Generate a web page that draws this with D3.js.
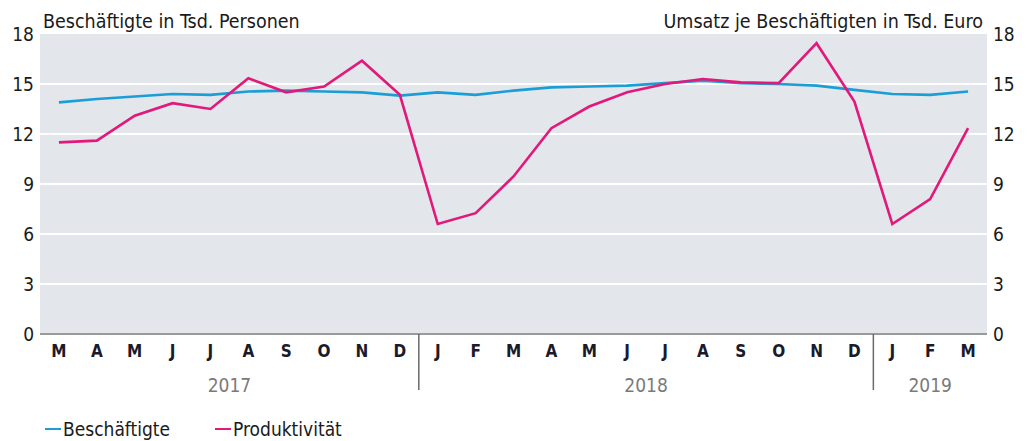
<!DOCTYPE html>
<html>
<head>
<meta charset="utf-8">
<script src="https://cdn.jsdelivr.net/npm/d3@7"></script>
<style>
  body { margin: 0; background: #fff; }
  svg { font-family: "Liberation Sans Narrow", "DejaVu Sans Condensed", "Roboto", sans-serif; }
</style>
</head>
<body>
<svg id="chart" width="1027" height="441"></svg>
<script>
// month labels, Mar 2017 .. Mar 2019
var months = ["M","A","M","J","J","A","S","O","N","D",
              "J","F","M","A","M","J","J","A","S","O","N","D",
              "J","F","M"];
var years = [["2017", 0, 9], ["2018", 10, 21], ["2019", 22, 24]];   // label, first idx, last idx

var beschaeftigte = [13.9, 14.1, 14.25, 14.4, 14.35, 14.55, 14.6, 14.55, 14.5, 14.3,
                     14.5, 14.35, 14.6, 14.8, 14.85, 14.9, 15.05, 15.2, 15.05, 15.0, 14.9, 14.65,
                     14.4, 14.35, 14.55];
var produktivitaet = [11.5, 11.6, 13.1, 13.85, 13.5, 15.35, 14.5, 14.85, 16.4, 14.35,
                      6.6, 7.25, 9.45, 12.35, 13.65, 14.5, 15.0, 15.3, 15.1, 15.05, 17.45, 13.95,
                      6.6, 8.1, 12.35];
var yTicks = [0, 3, 6, 9, 12, 15, 18];

var svg = d3.select("#chart");
var plotLeft = 40, plotRight = 987, plotTop = 34, plotBottom = 334;

var x = d3.scaleBand()
          .domain(d3.range(months.length))
          .range([plotLeft, plotRight]);

var y = d3.scaleLinear()
          .domain([0, 18])
          .range([plotBottom, plotTop]);

// plot background
svg.append("rect")
   .attr("x", plotLeft)
   .attr("y", plotTop)
   .attr("width", plotRight - plotLeft)
   .attr("height", plotBottom - plotTop)
   .attr("fill", "#e3e7eb");

// gridlines
svg.selectAll("line.grid")
   .data(yTicks.filter(d => d > 0 && d < 18))
   .enter()
   .append("line")
   .attr("class", "grid")
   .attr("x1", plotLeft)
   .attr("x2", plotRight)
   .attr("y1", d => y(d))
   .attr("y2", d => y(d))
   .attr("stroke", "#fff")
   .attr("stroke-width", 2);

// baseline
svg.append("line")
   .attr("x1", plotLeft)
   .attr("x2", plotRight)
   .attr("y1", y(0))
   .attr("y2", y(0))
   .attr("stroke", "#9a9a9a")
   .attr("stroke-width", 2);

// y tick labels, both sides
var tickFont = 19;
svg.selectAll("text.yl")
   .data(yTicks)
   .enter()
   .append("text")
   .attr("class", "yl")
   .attr("x", plotLeft - 6)
   .attr("y", d => y(d))
   .attr("dy", "0.35em")
   .attr("text-anchor", "end")
   .attr("font-size", tickFont)
   .attr("fill", "#1a1a1a")
   .text(d => d);

svg.selectAll("text.yr")
   .data(yTicks)
   .enter()
   .append("text")
   .attr("class", "yr")
   .attr("x", plotRight + 6)
   .attr("y", d => y(d))
   .attr("dy", "0.35em")
   .attr("text-anchor", "start")
   .attr("font-size", tickFont)
   .attr("fill", "#1a1a1a")
   .text(d => d);

// axis titles
svg.append("text")
   .attr("x", 43)
   .attr("y", 28)
   .attr("font-size", 19.5)
   .attr("fill", "#1a1a1a")
   .text("Beschäftigte in Tsd. Personen");

svg.append("text")
   .attr("x", 983)
   .attr("y", 28)
   .attr("text-anchor", "end")
   .attr("font-size", 19.5)
   .attr("fill", "#1a1a1a")
   .text("Umsatz je Beschäftigten in Tsd. Euro");

// month labels
svg.selectAll("text.month")
   .data(months)
   .enter()
   .append("text")
   .attr("class", "month")
   .attr("x", (d, i) => x(i) + x.bandwidth() / 2)
   .attr("y", 357)
   .attr("text-anchor", "middle")
   .attr("font-size", 17)
   .attr("font-weight", "bold")
   .attr("fill", "#1a1a2a")
   .text(d => d);

// year labels
svg.selectAll("text.year")
   .data(years)
   .enter()
   .append("text")
   .attr("class", "year")
   .attr("x", d => (x(d[1]) + x(d[2]) + x.bandwidth()) / 2)
   .attr("y", 392)
   .attr("text-anchor", "middle")
   .attr("font-size", 19)
   .attr("fill", "#7a7a7a")
   .text(d => d[0]);

// year separators
svg.selectAll("line.sep")
   .data(years.slice(1))
   .enter()
   .append("line")
   .attr("class", "sep")
   .attr("x1", d => x(d[1]))
   .attr("x2", d => x(d[1]))
   .attr("y1", y(0))
   .attr("y2", 390)
   .attr("stroke", "#6a6a6a")
   .attr("stroke-width", 1.5);

// lines
var line = d3.line()
             .x((d, i) => x(i) + x.bandwidth() / 2)
             .y(d => y(d));

svg.append("path")
   .datum(beschaeftigte)
   .attr("d", line)
   .attr("fill", "none")
   .attr("stroke", "#1b9ed6")
   .attr("stroke-width", 2.6);

svg.append("path")
   .datum(produktivitaet)
   .attr("d", line)
   .attr("fill", "none")
   .attr("stroke", "#e2187a")
   .attr("stroke-width", 2.6)
   .attr("stroke-linejoin", "miter");

// legend
var legend = [["Beschäftigte", "#1b9ed6", 45], ["Produktivität", "#e2187a", 215]];

var lg = svg.selectAll("g.legend")
            .data(legend)
            .enter()
            .append("g")
            .attr("class", "legend")
            .attr("transform", d => "translate(" + d[2] + ",429)");

lg.append("line")
  .attr("x1", 0)
  .attr("x2", 16)
  .attr("y1", 0)
  .attr("y2", 0)
  .attr("stroke", d => d[1])
  .attr("stroke-width", 2);

lg.append("text")
  .attr("x", 18)
  .attr("dy", "0.35em")
  .attr("font-size", 19)
  .attr("fill", "#1a1a1a")
  .text(d => d[0]);
</script>
</body>
</html>
